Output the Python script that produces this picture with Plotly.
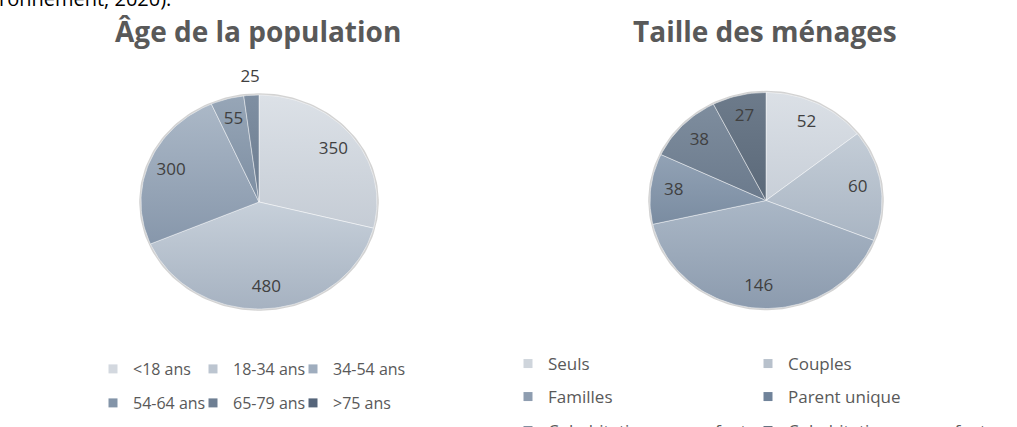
import numpy as np
import plotly.graph_objects as go

W, H = 1017, 427

# ---------------- data ----------------
age_labels = ["<18 ans", "18-34 ans", "34-54 ans", "54-64 ans", "65-79 ans", ">75 ans"]
age_values = [350, 480, 300, 55, 25, None]

hh_labels = ["Seuls", "Couples", "Familles", "Parent unique",
             "Cohabitation sans enfant", "Cohabitation avec enfants"]
hh_values = [52, 60, 146, 38, 38, 27]

# ---------------- styles ----------------
age_top = ["#dce1e7", "#c7d0da", "#abb8c7", "#97a6b7", "#7f8fa2", "#5c6b7e"]
age_bottom = ["#c5ccd5", "#a6b2c1", "#8797ab", "#7d8ea2", "#6b7b8e", "#4f5e70"]
age_swatch = ["#d3d8df", "#bcc5d0", "#9fadbe", "#8394a8", "#6e7f93", "#55657a"]

hh_top = ["#dbe0e6", "#c4cdd7", "#aab7c6", "#92a2b5", "#7e8d9e", "#6d7b8b"]
hh_bottom = ["#c8cfd8", "#a9b5c3", "#8c9bae", "#7a8ca1", "#6b7a8c", "#5b6979"]
hh_swatch = ["#cfd5dc", "#b8c1cc", "#8e9db0", "#70839a", "#7b8a9b", "#5d6b7b"]

TITLE_FONT = dict(family="Open Sans", size=28, color="#595959", weight=700)
LABEL_FONT = dict(family="Open Sans", size=17, color="#404040")
AGE_LEGEND_FONT = dict(family="Open Sans", size=16, color="#595959")
HH_LEGEND_FONT = dict(family="Open Sans", size=17, color="#595959")

# pie geometry in pixels: centre x, centre y (from top), radius x, radius y
PIES = {
    "age": dict(cx=259, cy=202, rx=118, ry=107, xa="x", ya="y"),
    "hh": dict(cx=766, cy=200.5, rx=116, ry=108, xa="x2", ya="y2"),
}
SPAN = 1.3  # axis half-range, leaves room for outside labels


def wedge_fracs(values):
    total = float(sum(v for v in values if v is not None))
    acc, out = 0.0, []
    for v in values:
        if v is None:
            out.append(None)
            continue
        out.append((acc / total, (acc + v) / total))
        acc += v
    return out


def wedge_xy(f0, f1):
    # clockwise from 12 o'clock on the unit circle
    n = max(6, int(220 * (f1 - f0)))
    a = np.linspace(f0, f1, n) * 2 * np.pi
    xs = np.concatenate([[0.0], np.sin(a), [0.0]])
    ys = np.concatenate([[0.0], np.cos(a), [0.0]])
    return xs, ys


fig = go.Figure()


def add_pie(key, labels, values, tops, bottoms, swatches, legends, widths):
    g = PIES[key]
    xa, ya = g["xa"], g["ya"]
    ring = np.linspace(0, 2 * np.pi, 200)
    # soft rim under the pie
    fig.add_trace(go.Scatter(
        x=np.sin(ring) * 1.006, y=np.cos(ring) * 1.006, mode="lines",
        line=dict(color="rgba(110,110,110,0.30)", width=2.2),
        hoverinfo="skip", showlegend=False, xaxis=xa, yaxis=ya))
    fracs = wedge_fracs(values)
    tx, ty, tt = [], [], []
    for i, (lab, v, fr) in enumerate(zip(labels, values, fracs)):
        if fr is not None:
            xs, ys = wedge_xy(*fr)
            fig.add_trace(go.Scatter(
                x=xs, y=ys, mode="lines", fill="toself",
                fillcolor=swatches[i],
                fillgradient=dict(type="vertical",
                                  colorscale=[[0, bottoms[i]], [1, tops[i]]]),
                line=dict(color="rgba(255,255,255,0.55)", width=0.8),
                name=lab, legendgroup=key + lab, showlegend=False,
                hovertemplate=lab + ": %{text}<extra></extra>",
                text=[v] * len(xs), xaxis=xa, yaxis=ya))
            mid = (fr[0] + fr[1]) / 2 * 2 * np.pi
            r = 0.8 if (fr[1] - fr[0]) > 0.03 else 1.16
            tx.append(r * np.sin(mid))
            ty.append(r * np.cos(mid))
            tt.append(str(v))
        # legend entry
        fig.add_trace(go.Scatter(
            x=[None], y=[None], mode="markers",
            marker=dict(symbol="square", size=9, color=swatches[i],
                        line=dict(width=0)),
            name=lab, legendgroup=key + lab, legend=legends[i],
            legendwidth=widths[i], xaxis=xa, yaxis=ya))
    fig.add_trace(go.Scatter(
        x=tx, y=ty, mode="text", text=tt, textposition="middle center",
        textfont=LABEL_FONT, cliponaxis=False, hoverinfo="skip",
        showlegend=False, xaxis=xa, yaxis=ya))


add_pie("age", age_labels, age_values, age_top, age_bottom, age_swatch,
        ["legend", "legend", "legend", "legend2", "legend2", "legend2"],
        [55, 55, 100, 55, 55, 100])
add_pie("hh", hh_labels, hh_values, hh_top, hh_bottom, hh_swatch,
        ["legend3", "legend3", "legend4", "legend4", "legend5", "legend5"],
        [195, 200, 195, 200, 195, 220])


def dom(g):
    rx, ry = g["rx"] * SPAN, g["ry"] * SPAN
    xd = [(g["cx"] - rx) / W, (g["cx"] + rx) / W]
    yd = [(H - g["cy"] - ry) / H, (H - g["cy"] + ry) / H]
    return xd, yd


ax_common = dict(range=[-SPAN, SPAN], visible=False, fixedrange=True,
                 showgrid=False, zeroline=False)
xd1, yd1 = dom(PIES["age"])
xd2, yd2 = dom(PIES["hh"])


def legend_cfg(x_px, y_px, font):
    return dict(orientation="h", x=x_px / W, xanchor="left",
                y=(H - y_px) / H, yanchor="middle",
                font=font, bgcolor="rgba(0,0,0,0)",
                borderwidth=0, traceorder="normal", itemsizing="trace")


fig.update_layout(
    width=W, height=H,
    margin=dict(l=0, r=0, t=0, b=0, pad=0, autoexpand=False),
    paper_bgcolor="white", plot_bgcolor="white",
    xaxis=dict(domain=xd1, **ax_common),
    yaxis=dict(domain=yd1, **ax_common),
    xaxis2=dict(domain=xd2, anchor="y2", **ax_common),
    yaxis2=dict(domain=yd2, anchor="x2", **ax_common),
    legend=legend_cfg(93, 369, AGE_LEGEND_FONT),
    legend2=legend_cfg(93, 403, AGE_LEGEND_FONT),
    legend3=legend_cfg(508, 364, HH_LEGEND_FONT),
    legend4=legend_cfg(508, 397, HH_LEGEND_FONT),
    legend5=legend_cfg(508, 431, HH_LEGEND_FONT),
    annotations=[
        dict(text="Âge de la population", x=258 / W, y=(H - 31) / H,
             xref="paper", yref="paper", xanchor="center", yanchor="middle",
             showarrow=False, font=TITLE_FONT),
        dict(text="Taille des ménages", x=765 / W, y=(H - 31) / H,
             xref="paper", yref="paper", xanchor="center", yanchor="middle",
             showarrow=False, font=TITLE_FONT),
        dict(text="l'environnement, 2020).", x=173 / W, y=(H - 14) / H,
             xref="paper", yref="paper", xanchor="right", yanchor="bottom",
             showarrow=False,
             font=dict(family="Open Sans", size=20, color="#000000")),
    ],
)

fig.write_html("out.html")
